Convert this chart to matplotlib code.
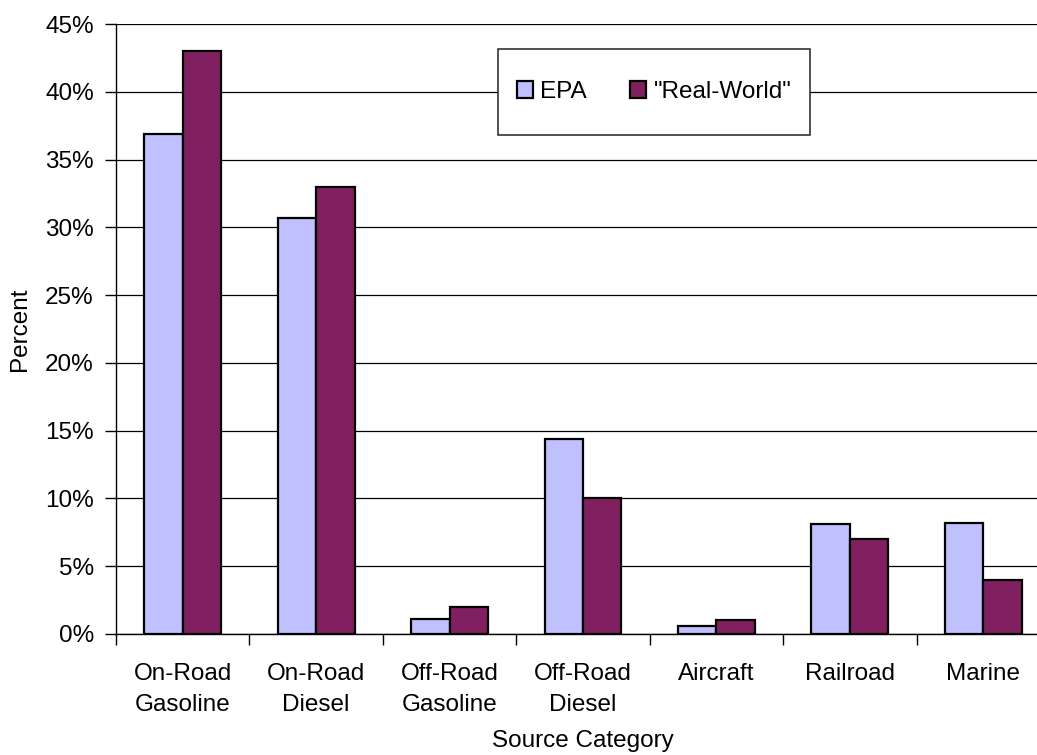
import numpy as np
import matplotlib.pyplot as plt
from matplotlib.patches import Rectangle

plt.rcParams['font.family'] = ['Liberation Sans', 'DejaVu Sans']
plt.rcParams['font.size'] = 17.5

# data
categories = ["On-Road\nGasoline", "On-Road\nDiesel", "Off-Road\nGasoline",
              "Off-Road\nDiesel", "Aircraft", "Railroad", "Marine"]
epa = [36.9, 30.7, 1.1, 14.4, 0.6, 8.1, 8.2]
real_world = [43.0, 33.0, 2.0, 10.0, 1.0, 7.0, 4.0]
yticks = np.arange(0, 46, 5)

fig = plt.figure(figsize=(10.37, 7.55), dpi=100)
# plot area runs past the right edge in the original
ax = fig.add_axes([0.1119, 0.1603, 0.9006, 0.8079])

x = np.arange(len(categories))
w = 0.288
ax.bar(x - w/2, epa, w, color='#C0C0FF', edgecolor='black', linewidth=1.6,
       label='EPA', zorder=3)
ax.bar(x + w/2, real_world, w, color='#802060', edgecolor='black', linewidth=1.6,
       label='"Real-World"', zorder=3)

ax.set_xlim(-0.5, len(categories) - 0.5)
ax.set_ylim(0, 45)
ax.set_yticks(yticks)
ax.set_yticklabels([f"{v}%" for v in yticks])
ax.yaxis.grid(True, color='black', linewidth=0.9, zorder=0)
ax.set_axisbelow(True)

ax.set_xticks(x)
ax.set_xticklabels(categories, linespacing=1.55)
ax.set_xticks(np.arange(-0.5, len(categories), 1.0), minor=True)
ax.tick_params(axis='x', which='major', length=0, pad=21)
ax.tick_params(axis='x', which='minor', length=8, width=1, direction='out')
ax.tick_params(axis='y', length=8, width=1, direction='out', pad=8)

for s in ['top', 'right']:
    ax.spines[s].set_visible(False)
ax.spines['left'].set_linewidth(1)
ax.spines['bottom'].set_linewidth(1)

ax.set_ylabel("Percent", labelpad=10)
ax.set_xlabel("Source Category", labelpad=10)

# legend box
fig.patches.append(Rectangle((498/1037, 1 - 135/755), 312/1037, 86/755,
                             transform=fig.transFigure, facecolor='white',
                             edgecolor='#333333', linewidth=1.2, zorder=2))
h, l = ax.get_legend_handles_labels()
leg = fig.legend(h, l, loc='center', bbox_to_anchor=(654/1037, 1 - 92/755),
                 ncol=2, frameon=False, handlelength=0.66, handleheight=0.66,
                 handletextpad=0.29, columnspacing=1.8, fontsize=17.5)
leg.set_zorder(3)

fig.savefig('out.png', dpi=100)
